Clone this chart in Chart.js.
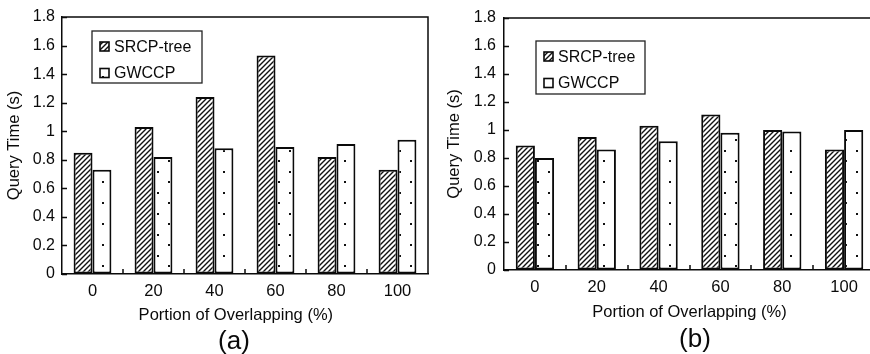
<!DOCTYPE html>
<html lang="en">
<head>
    <meta charset="UTF-8">
    <title>Query Time vs Portion of Overlapping</title>
    <script src="https://cdn.jsdelivr.net/npm/chart.js"></script>
    <style>
        body {
            margin: 0;
            padding: 0;
            background: #fff;
            width: 870px;
            height: 354px;
            overflow: hidden;
            position: relative;
        }
        canvas {
            position: absolute;
            top: 0;
        }
        #chartA { left: 0; }
        #chartB { left: 435px; }
    </style>
</head>
<body>
    <canvas id="chartA" width="435" height="354"></canvas>
    <canvas id="chartB" width="445" height="354"></canvas>

    <script>
        // data
        const categories = ['0', '20', '40', '60', '80', '100'];
        const seriesNames = ['SRCP-tree', 'GWCCP'];
        const srcpA = [0.85, 1.03, 1.24, 1.53, 0.82, 0.73];
        const gwccpA = [0.73, 0.82, 0.88, 0.89, 0.91, 0.94];
        const srcpB = [0.89, 0.95, 1.03, 1.11, 1.00, 0.86];
        const gwccpB = [0.80, 0.86, 0.92, 0.98, 0.99, 1.00];
        const yTickLabels = ['0', '0.2', '0.4', '0.6', '0.8', '1', '1.2', '1.4', '1.6', '1.8'];

        const FONT = '"Liberation Sans", Arial, sans-serif';
        const INK = '#0a0a0a';

        // fill patterns
        function hatchPattern() {
            const c = document.createElement('canvas');
            c.width = 5; c.height = 5;
            const g = c.getContext('2d');
            g.fillStyle = '#fff';
            g.fillRect(0, 0, 5, 5);
            g.strokeStyle = '#111';
            g.lineWidth = 1.4;
            g.beginPath();
            g.moveTo(-1, 6); g.lineTo(6, -1);
            g.moveTo(-1, 1); g.lineTo(1, -1);
            g.moveTo(4, 6); g.lineTo(6, 4);
            g.stroke();
            return g.createPattern(c, 'repeat');
        }

        function dotPattern() {
            const c = document.createElement('canvas');
            c.width = 22; c.height = 21;
            const g = c.getContext('2d');
            g.fillStyle = '#fff';
            g.fillRect(0, 0, 22, 21);
            g.fillStyle = '#111';
            g.fillRect(3, 3, 2, 2);
            g.fillRect(14, 13, 2, 2);
            return g.createPattern(c, 'repeat');
        }

        const hatch = hatchPattern();
        const dots = dotPattern();

        // top/right frame, inward tick marks and the (a)/(b) caption
        const framePlugin = {
            id: 'frame',
            afterDatasetsDraw(chart, args, opts) {
                const { ctx, chartArea: a, scales: { x, y } } = chart;
                ctx.save();
                ctx.strokeStyle = INK;
                ctx.lineWidth = 1.5;
                ctx.beginPath();
                ctx.moveTo(a.left, a.top);
                ctx.lineTo(a.right, a.top);
                if (opts.right) ctx.lineTo(a.right, a.bottom);
                y.ticks.forEach(t => {
                    const py = Math.round(y.getPixelForValue(t.value)) + 0.5;
                    ctx.moveTo(a.left, py);
                    ctx.lineTo(a.left + 5, py);
                });
                for (let i = 1; i < x.ticks.length; i++) {
                    const px = Math.round((x.getPixelForTick(i - 1) + x.getPixelForTick(i)) / 2);
                    ctx.moveTo(px, a.bottom);
                    ctx.lineTo(px, a.bottom - 5);
                }
                ctx.stroke();

                ctx.fillStyle = INK;
                ctx.font = '26px ' + FONT;
                ctx.textAlign = 'center';
                ctx.textBaseline = 'middle';
                ctx.fillText(opts.caption, opts.capX, opts.capY);
                ctx.restore();
            }
        };

        // boxed legend inside the plot
        const boxLegend = {
            id: 'boxLegend',
            afterDraw(chart, args, opts) {
                const ctx = chart.ctx;
                const a = chart.chartArea;
                const bx = a.left + opts.dx, by = a.top + opts.dy;
                ctx.save();
                ctx.strokeStyle = '#222';
                ctx.lineWidth = 1.3;
                ctx.fillStyle = '#fff';
                ctx.fillRect(bx, by, opts.w, opts.h);
                ctx.strokeRect(bx, by, opts.w, opts.h);
                ctx.font = '16px ' + FONT;
                ctx.textBaseline = 'middle';
                chart.data.datasets.forEach((ds, i) => {
                    const cy = by + 15.5 + i * 26.5;
                    ctx.fillStyle = ds.backgroundColor;
                    ctx.fillRect(bx + 8, cy - 4.5, 9, 9);
                    ctx.lineWidth = 1.6;
                    ctx.strokeStyle = INK;
                    ctx.strokeRect(bx + 8, cy - 4.5, 9, 9);
                    ctx.fillStyle = INK;
                    ctx.fillText(ds.label, bx + 22, cy + 1);
                });
                ctx.restore();
            }
        };

        function makeChart(id, srcp, gwccp, cfg) {
            return new Chart(document.getElementById(id), {
                type: 'bar',
                data: {
                    labels: categories,
                    datasets: [
                        { label: seriesNames[0], data: srcp, backgroundColor: hatch, borderColor: INK, borderWidth: 2, borderSkipped: false },
                        { label: seriesNames[1], data: gwccp, backgroundColor: dots, borderColor: INK, borderWidth: 2, borderSkipped: false }
                    ]
                },
                options: {
                    responsive: false,
                    animation: false,
                    devicePixelRatio: 1,
                    layout: { padding: { left: 0, top: cfg.top, right: cfg.right, bottom: cfg.bottom } },
                    datasets: { bar: { categoryPercentage: 0.62, barPercentage: 1.0 } },
                    scales: {
                        x: {
                            grid: { display: true, drawOnChartArea: false, drawTicks: false },
                            border: { display: true, color: INK, width: 1.5 },
                            ticks: { color: INK, padding: cfg.xTickPad, font: { size: 16.5, family: FONT } },
                            title: { display: true, text: cfg.xTitle, color: INK, font: { size: 16.5, family: FONT }, padding: { top: 0, bottom: cfg.xTitlePad } },
                            afterFit: s => { s.height = cfg.xHeight; }
                        },
                        y: {
                            min: 0,
                            max: 1.8,
                            grid: { display: true, drawOnChartArea: false, drawTicks: false },
                            border: { display: true, color: INK, width: 1.5 },
                            ticks: { stepSize: 0.2, color: INK, padding: cfg.yTickPad, font: { size: 16, family: FONT },
                                callback: (v, i) => yTickLabels[i] },
                            title: { display: true, text: 'Query Time (s)', color: INK, font: { size: 16.5, family: FONT }, padding: { top: cfg.yTitlePad, bottom: 0 } },
                            afterFit: s => { s.width = cfg.yWidth; }
                        }
                    },
                    plugins: {
                        legend: { display: false },
                        tooltip: { enabled: false },
                        frame: { right: cfg.frameRight, caption: cfg.caption, capX: cfg.capX, capY: cfg.capY },
                        boxLegend: cfg.legend
                    }
                },
                plugins: [framePlugin, boxLegend]
            });
        }

        // the left figure's axis title sits a little left of the plot centre
        makeChart('chartA', srcpA, gwccpA, {
            top: 17, right: 7, bottom: 26, xHeight: 54, xTickPad: 8, xTitlePad: 3, yWidth: 62, yTickPad: 7, yTitlePad: 5,
            xTitle: 'Portion of Overlapping (%)\u00a0\u00a0\u00a0\u00a0',
            caption: '(a)', capX: 234, capY: 341.5, frameRight: true, legend: { dx: 30, dy: 14, w: 110, h: 52 }
        });

        makeChart('chartB', srcpB, gwccpB, {
            top: 18, right: 5, bottom: 27, xHeight: 57, xTickPad: 7.5, xTitlePad: 5, yWidth: 69, yTickPad: 8, yTitlePad: 10,
            xTitle: 'Portion of Overlapping (%)',
            caption: '(b)', capX: 260, capY: 340, frameRight: false, legend: { dx: 32, dy: 23, w: 109, h: 53 }
        });
    </script>
</body>
</html>
